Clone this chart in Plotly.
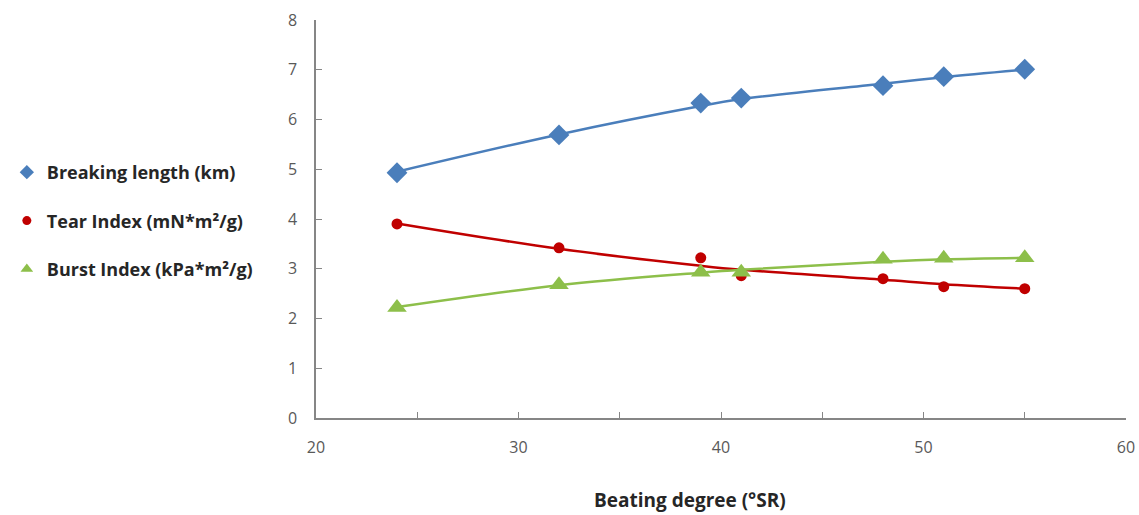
import plotly.graph_objects as go

# Beating degree (°SR) of each sample
beating_degree = [24, 32, 39, 41, 48, 51, 55]

# Measured paper properties
breaking_length = [4.93, 5.69, 6.33, 6.43, 6.68, 6.86, 7.01]
tear_index = [3.90, 3.42, 3.22, 2.86, 2.80, 2.64, 2.60]
burst_index = [2.22, 2.68, 2.93, 2.93, 3.19, 3.21, 3.22]

# Fitted trend values at the same beating degrees
breaking_trend = [4.95, 5.70, 6.27, 6.41, 6.72, 6.85, 7.00]
tear_trend = [3.91, 3.40, 3.06, 2.98, 2.78, 2.69, 2.60]
burst_trend = [2.23, 2.67, 2.92, 2.98, 3.14, 3.19, 3.22]

x_ticks = [20, 30, 40, 50, 60]
y_ticks = [0, 1, 2, 3, 4, 5, 6, 7, 8]

series = [
    ("Breaking length (km)", breaking_length, breaking_trend, "#4A7EBB", "diamond", 16, 11),
    ("Tear Index (mN*m²/g)", tear_index, tear_trend, "#C00000", "circle", 11, 9),
    ("Burst Index (kPa*m²/g)", burst_index, burst_trend, "#8DBF4A", "triangle-up", 17, 11),
]

fig = go.Figure()
for name, values, trend, color, symbol, size, key_size in series:
    fig.add_trace(go.Scatter(
        x=beating_degree, y=trend, mode="lines", line=dict(color=color, width=2.5, shape="spline"),
        showlegend=False, hoverinfo="skip", legendgroup=name,
    ))
    fig.add_trace(go.Scatter(
        x=beating_degree, y=values, mode="markers", name=name, legendgroup=name,
        marker=dict(symbol=symbol, size=size, color=color), showlegend=False,
    ))
    # legend key with a smaller symbol
    fig.add_trace(go.Scatter(
        x=[None], y=[None], mode="markers", name=name, legendgroup=name,
        marker=dict(symbol=symbol, size=key_size, color=color),
    ))

axis_common = dict(
    showgrid=False, zeroline=False, showline=True, linecolor="#868686", linewidth=1.5,
    ticks="inside", ticklen=6, tickcolor="#868686", automargin=False,
    tickfont=dict(family="Open Sans", size=16, color="#595959"),
)

fig.update_layout(
    width=1139, height=515,
    margin=dict(l=316, r=13, t=20, b=97),
    paper_bgcolor="white", plot_bgcolor="white",
    xaxis=dict(range=[20, 60], tickvals=x_ticks, ticklabelstandoff=14,
               minor=dict(dtick=5, ticks="inside", ticklen=6, tickcolor="#868686"),
               **axis_common),
    yaxis=dict(range=[0, 8], tickvals=y_ticks, ticklabelstandoff=14, **axis_common),
    legend=dict(
        xref="container", yref="container",
        x=0.006, xanchor="left", y=0.701, yanchor="top",
        font=dict(family="Open Sans", size=18, color="#262626", weight="bold"),
        tracegroupgap=22,
        bgcolor="rgba(0,0,0,0)",
    ),
    annotations=[dict(
        text="<b>Beating degree (°SR)</b>", xref="paper", yref="paper",
        x=0.462, y=-0.205, xanchor="center", yanchor="middle", showarrow=False,
        font=dict(family="Open Sans", size=19, color="#262626"),
    )],
)

fig.write_html("out.html")
